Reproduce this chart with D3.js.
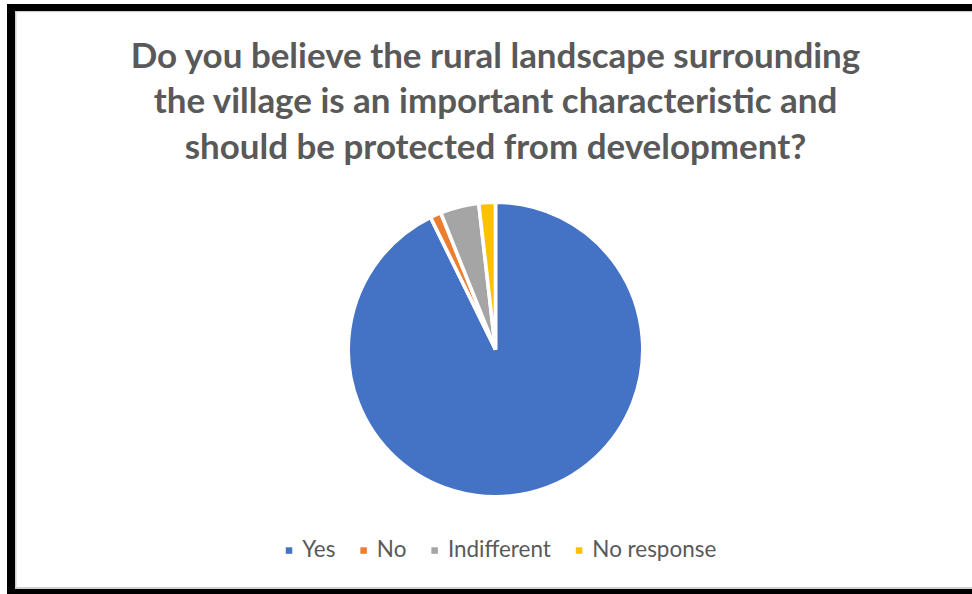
<!DOCTYPE html>
<html>
<head>
<meta charset="utf-8">
<script src="https://cdn.jsdelivr.net/npm/d3@7"></script>
<style>
  html, body { margin: 0; padding: 0; background: #fff; }
  svg { display: block; }
</style>
</head>
<body>
<svg id="chart" width="972" height="594"></svg>
<script>
const categories = ["Yes", "No", "Indifferent", "No response"];
const values = [153, 2, 7, 3];
const colors = ["#4472C4", "#ED7D31", "#A5A5A5", "#FFC000"];
const titleLines = [
  "Do you believe the rural landscape surrounding",
  "the village is an important characteristic and",
  "should be protected from development?"
];

const W = 972, H = 594;
const svg = d3.select("#chart");

// background and frame
svg.append("rect").attr("x", 0).attr("y", 0).attr("width", W).attr("height", H).attr("fill", "#fff");
const frame = svg.append("g");
frame.append("rect").attr("x", 7).attr("y", 4).attr("width", W - 7).attr("height", 7).attr("fill", "#000");
frame.append("rect").attr("x", 7).attr("y", 4).attr("width", 8).attr("height", H - 4).attr("fill", "#000");
frame.append("rect").attr("x", 7).attr("y", 589).attr("width", W - 7).attr("height", 5).attr("fill", "#000");
frame.append("rect").attr("x", 15).attr("y", 11).attr("width", W - 15).attr("height", 1.2).attr("fill", "#d0d0d0");
frame.append("rect").attr("x", 15).attr("y", 11).attr("width", 1.5).attr("height", 578).attr("fill", "#d0d0d0");
frame.append("rect").attr("x", 15).attr("y", 587).attr("width", W - 15).attr("height", 2).attr("fill", "#d0d0d0");

// title
const titleFont = "Lato, 'Open Sans', sans-serif";
const title = svg.append("g");
const probe = title.append("text").attr("font-family", titleFont).attr("font-weight", "bold")
  .attr("font-size", 32).text(titleLines[0]);
const w0 = probe.node().getComputedTextLength();
probe.remove();
const titleSize = 32 * 730 / w0;
const titleBase = [67.5, 113, 158.5];
titleLines.forEach((t, i) => {
  title.append("text")
    .attr("x", 495.5).attr("y", titleBase[i])
    .attr("text-anchor", "middle")
    .attr("font-family", titleFont).attr("font-weight", "bold")
    .attr("font-size", titleSize).attr("fill", "#595959")
    .text(t);
});

// pie
const cx = 495.5, cy = 349.5, r = 147.3;
const pie = d3.pie().sort(null).value(d => d.v).startAngle(0).endAngle(2 * Math.PI);
const data = categories.map((c, i) => ({ c, v: values[i], col: colors[i] }));
const arc = d3.arc().innerRadius(0).outerRadius(r);
svg.append("g").attr("transform", `translate(${cx},${cy})`)
  .selectAll("path").data(pie(data)).join("path")
  .attr("d", arc)
  .attr("fill", d => d.data.col)
  .attr("stroke", "#fff").attr("stroke-width", 3.6).attr("stroke-linejoin", "miter");

// legend
const legFont = "Lato, 'Open Sans', sans-serif";
const legend = svg.append("g");
const sq = 6.5, gapT = 10, gapI = 25;
const probe2 = legend.append("text").attr("font-family", legFont).attr("font-size", 20).text("Indifferent");
const wi = probe2.node().getComputedTextLength();
probe2.remove();
const legSize = 20 * 103 / wi;
const items = legend.selectAll("g").data(data).join("g");
items.append("rect").attr("width", sq).attr("height", sq).attr("y", 547.3).attr("fill", d => d.col);
items.append("text").attr("x", sq + gapT).attr("y", 556.5)
  .attr("font-family", legFont).attr("font-size", legSize).attr("fill", "#595959")
  .text(d => d.c);
let widths = [];
items.each(function () { widths.push(d3.select(this).select("text").node().getComputedTextLength()); });
const itemW = widths.map(w => sq + gapT + w);
const total = d3.sum(itemW) + gapI * (itemW.length - 1);
let x = 501 - total / 2;
items.attr("transform", (d, i) => { const t = `translate(${x},0)`; x += itemW[i] + gapI; return t; });
</script>
</body>
</html>
